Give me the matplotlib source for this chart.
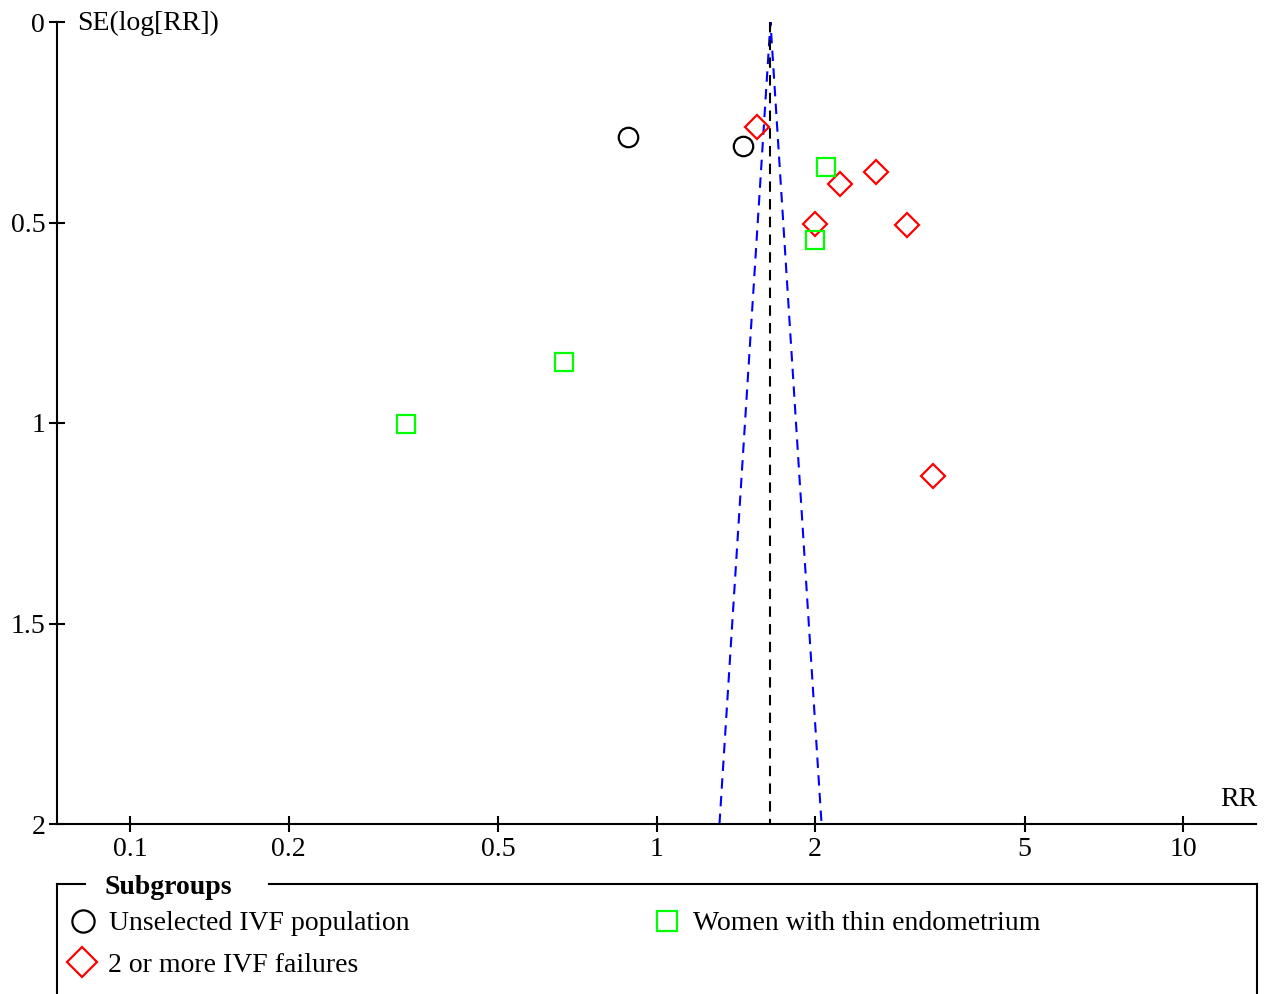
import numpy as np
import matplotlib
matplotlib.use("Agg")
import matplotlib.pyplot as plt
from matplotlib.lines import Line2D

plt.rcParams['font.family'] = ['Liberation Serif', 'DejaVu Serif']

# study estimates (RR, SE of log RR) per subgroup
unselected_rr = [0.881, 1.457]
unselected_se = [0.287, 0.309]

failures_rr = [1.549, 2.227, 2.617, 1.996, 2.985, 3.344]
failures_se = [0.262, 0.404, 0.374, 0.504, 0.506, 1.132]

thin_rr = [2.103, 1.996, 0.666, 0.334]
thin_se = [0.362, 0.544, 0.848, 1.002]

# pooled estimate and funnel limits at the bottom of the plot
pooled_rr = 1.646
funnel_se_max = 2.0
funnel_low_rr = 1.317
funnel_high_rr = 2.058

xticks = [0.1, 0.2, 0.5, 1, 2, 5, 10]
xticklabels = ['0.1', '0.2', '0.5', '1', '2', '5', '10']
yticks = [0, 0.5, 1, 1.5, 2]
yticklabels = ['0', '0.5', '1', '1.5', '2']

group_names = ['Unselected IVF population', '2 or more IVF failures',
               'Women with thin endometrium']

FS = 20
W, H = 1266, 994
fig = plt.figure(figsize=(W / 100, H / 100), dpi=100)

def fx(px):
    return px / W

def fy(py):
    return 1 - py / H

ax = fig.add_axes([fx(57), fy(824), fx(1256) - fx(57), fy(22) - fy(824)])
ax.set_xscale('log')
ax.set_xlim(0.07266, 13.76)
ax.set_ylim(2, 0)

# funnel
ax.plot([funnel_low_rr, pooled_rr, funnel_high_rr], [funnel_se_max, 0, funnel_se_max],
        color='#0000ff', lw=1.5, dashes=(5, 3.5), zorder=1)
ax.plot([pooled_rr, pooled_rr], [0, funnel_se_max], color='black', lw=1.5,
        dashes=(5, 3.5), zorder=1)

ax.plot(unselected_rr, unselected_se, 'o', ms=14, mfc='none', mec='black', mew=1.6,
        clip_on=False)
ax.plot(failures_rr, failures_se, 'D', ms=12.5, mfc='none', mec='#ff0000', mew=1.6,
        clip_on=False)
ax.plot(thin_rr, thin_se, 's', ms=12.5, mfc='none', mec='#00ff00', mew=1.6,
        clip_on=False)

for s in ['top', 'right']:
    ax.spines[s].set_visible(False)
for s in ['left', 'bottom']:
    ax.spines[s].set_linewidth(1.5)

ax.set_xticks(xticks)
ax.set_xticklabels(xticklabels)
ax.xaxis.set_minor_locator(matplotlib.ticker.NullLocator())
ax.set_yticks(yticks)
ax.set_yticklabels(yticklabels)
ax.tick_params(direction='inout', length=11, width=1.5, labelsize=FS)
ax.tick_params(axis='x', pad=4)
ax.tick_params(axis='y', pad=3)

ax.text(fx(77), fy(23), 'SE(log[RR])', transform=fig.transFigure, fontsize=FS,
        ha='left', va='center')
ax.text(fx(1257), fy(800), 'RR', transform=fig.transFigure, fontsize=FS,
        ha='right', va='center')

# legend box with title in the top border
box_top = 884
lw_box = 1.5
fig.add_artist(Line2D([fx(57), fx(85)], [fy(box_top), fy(box_top)], color='black', lw=lw_box))
fig.add_artist(Line2D([fx(269), fx(1257)], [fy(box_top), fy(box_top)], color='black', lw=lw_box))
fig.add_artist(Line2D([fx(57), fx(57)], [fy(box_top), fy(1000)], color='black', lw=lw_box))
fig.add_artist(Line2D([fx(1257), fx(1257)], [fy(box_top), fy(1000)], color='black', lw=lw_box))
fig.text(fx(105), fy(888), 'Subgroups', fontsize=FS, fontweight='bold', ha='left', va='center')

legend_items = [
    (group_names[0], 'o', 'black', 83, 921, 16),
    (group_names[1], 'D', '#ff0000', 82, 962, 15.5),
    (group_names[2], 's', '#00ff00', 667, 921, 15),
]
for name, m, c, px, py, ms in legend_items:
    fig.add_artist(Line2D([fx(px)], [fy(py)], marker=m, ms=ms, mfc='none', mec=c, mew=1.6))
    fig.text(fx(px + 26), fy(py + 3), name, fontsize=FS, ha='left', va='center')

fig.savefig('out.png', dpi=100)
